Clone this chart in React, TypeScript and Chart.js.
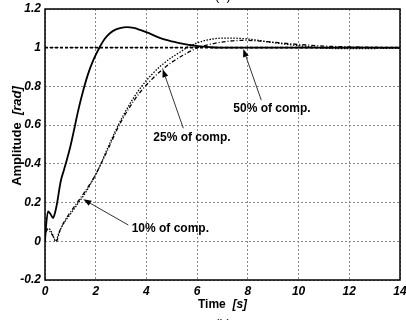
import React, { useEffect, useRef } from "react";
import { Chart, registerables } from "chart.js";

Chart.register(...registerables);

// ---- data ----
const xTicks = [0, 2, 4, 6, 8, 10, 12, 14];
const xTickLabels = ["0", "2", "4", "6", "8", "10", "12", "14"];
const yTicks = [-0.2, 0, 0.2, 0.4, 0.6, 0.8, 1.0, 1.2];
const yTickLabels = ["-0.2", "0", "0.2", "0.4", "0.6", "0.8", "1", "1.2"];

const solidTime = [0, 0.03, 0.12, 0.22, 0.32, 0.4, 0.48, 0.62, 0.75, 0.86, 1.0, 1.12, 1.3, 1.51, 1.7, 1.91, 2.17, 2.35, 2.56, 2.8, 3.0, 3.22, 3.5, 3.75, 4.1, 4.4, 4.7, 5.06, 5.4, 5.72, 6.03, 6.5, 7.0, 8, 9, 10, 11, 12, 13, 14];
const solidAmp = [0, 0.06, 0.155, 0.14, 0.12, 0.15, 0.2, 0.31, 0.37, 0.42, 0.49, 0.56, 0.67, 0.78, 0.865, 0.937, 1.006, 1.045, 1.075, 1.095, 1.103, 1.106, 1.102, 1.092, 1.075, 1.057, 1.043, 1.031, 1.021, 1.014, 1.008, 1.003, 1.0, 1.0, 1.0, 1.0, 1.0, 1.0, 1.0, 1.0];

const dottedTime = [0, 0.03, 0.1, 0.2, 0.3, 0.42, 0.55, 0.75, 1.0, 1.27, 1.54, 1.77, 2.0, 2.17, 2.5, 2.89, 3.3, 3.75, 4.2, 4.6, 5.0, 5.3, 5.59, 6.0, 6.6, 7.2, 8.0, 8.8, 9.5, 10.2, 11, 12, 13, 14];
const dottedAmp = [0, 0.05, 0.065, 0.06, 0.035, 0.0, 0.045, 0.095, 0.14, 0.19, 0.24, 0.29, 0.345, 0.39, 0.49, 0.6, 0.7, 0.79, 0.86, 0.91, 0.95, 0.975, 1.0, 1.025, 1.045, 1.05, 1.045, 1.03, 1.018, 1.008, 0.998, 0.995, 0.996, 0.997];

const dashdotTime = [0, 0.03, 0.1, 0.2, 0.3, 0.45, 0.6, 0.8, 1.0, 1.27, 1.54, 1.77, 2.0, 2.17, 2.5, 2.89, 3.3, 3.75, 4.2, 4.64, 5.0, 5.5, 6.03, 6.6, 7.2, 7.8, 8.5, 9.2, 10.0, 10.8, 11.5, 12.5, 13.2, 14];
const dashdotAmp = [0, 0.045, 0.06, 0.05, 0.03, 0.0, 0.06, 0.11, 0.15, 0.2, 0.25, 0.295, 0.345, 0.39, 0.48, 0.59, 0.685, 0.77, 0.835, 0.889, 0.925, 0.965, 1.0, 1.02, 1.033, 1.038, 1.034, 1.026, 1.017, 1.01, 1.006, 1.003, 1.001, 1.0];

const refTime = [0, 14];
const refAmp = [1, 1];

const annotationLabels = ["50% of comp.", "25% of comp.", "10% of comp."];

// ---- layout of annotations (data coordinates) ----
const annotationLayout = [
  { text: [7.426, 0.668], from: [8.53, 0.729], tip: [7.82, 0.994] },
  { text: [4.271, 0.517], from: [5.454, 0.584], tip: [4.641, 0.889] },
  { text: [3.418, 0.048], from: [3.285, 0.084], tip: [1.51, 0.217] },
];

const FONT = "'Liberation Sans', Arial, Helvetica, sans-serif";

const toPoints = (xs: number[], ys: number[]) => xs.map((x, i) => ({ x, y: ys[i] }));

const overlayPlugin = {
  id: "overlay",
  afterDraw(chart: any) {
    const ctx = chart.ctx as CanvasRenderingContext2D;
    const xs = chart.scales.x;
    const ys = chart.scales.y;
    const area = chart.chartArea;
    ctx.save();

    // frame
    ctx.strokeStyle = "#000";
    ctx.lineWidth = 1.5;
    ctx.setLineDash([]);
    ctx.strokeRect(area.left, area.top, area.right - area.left, area.bottom - area.top);

    // annotations
    ctx.font = `bold 12px ${FONT}`;
    ctx.fillStyle = "#000";
    ctx.textBaseline = "alphabetic";
    ctx.textAlign = "left";
    annotationLayout.forEach((a, i) => {
      const tx = xs.getPixelForValue(a.text[0]);
      const ty = ys.getPixelForValue(a.text[1]);
      ctx.fillText(annotationLabels[i], tx, ty);
      const fx = xs.getPixelForValue(a.from[0]);
      const fy = ys.getPixelForValue(a.from[1]);
      const px = xs.getPixelForValue(a.tip[0]);
      const py = ys.getPixelForValue(a.tip[1]);
      const ang = Math.atan2(py - fy, px - fx);
      const len = 8;
      const hw = 3;
      const bx = px - len * Math.cos(ang);
      const by = py - len * Math.sin(ang);
      ctx.strokeStyle = "#333";
      ctx.lineWidth = 1;
      ctx.beginPath();
      ctx.moveTo(fx, fy);
      ctx.lineTo(bx, by);
      ctx.stroke();
      ctx.beginPath();
      ctx.moveTo(px, py);
      ctx.lineTo(bx + hw * Math.sin(ang), by - hw * Math.cos(ang));
      ctx.lineTo(bx - hw * Math.sin(ang), by + hw * Math.cos(ang));
      ctx.closePath();
      ctx.fillStyle = "#000";
      ctx.fill();
    });

    // x title: "Time [s]"
    const cx = (area.left + area.right) / 2;
    ctx.fillStyle = "#000";
    ctx.textBaseline = "alphabetic";
    ctx.font = `bold 12px ${FONT}`;
    const t1 = "Time ";
    const w1 = ctx.measureText(t1).width;
    ctx.font = `italic bold 12px ${FONT}`;
    const t2 = " [s]";
    const w2 = ctx.measureText(t2).width;
    const sx = cx - (w1 + w2) / 2;
    ctx.font = `bold 12px ${FONT}`;
    ctx.fillText(t1, sx, 308);
    ctx.font = `italic bold 12px ${FONT}`;
    ctx.fillText(t2, sx + w1, 308);

    // y title: "Amplitude [rad]"
    ctx.save();
    ctx.translate(21, 136);
    ctx.rotate(-Math.PI / 2);
    ctx.font = `bold 13px ${FONT}`;
    const a1 = "Amplitude  ";
    const aw1 = ctx.measureText(a1).width;
    ctx.font = `italic bold 13px ${FONT}`;
    const a2 = "[rad]";
    const aw2 = ctx.measureText(a2).width;
    const ax = -(aw1 + aw2) / 2;
    ctx.font = `bold 13px ${FONT}`;
    ctx.fillText(a1, ax, 0);
    ctx.font = `italic bold 13px ${FONT}`;
    ctx.fillText(a2, ax + aw1, 0);
    ctx.restore();

    // clipped captions (mostly outside the picture)
    ctx.font = `13px ${FONT}`;
    ctx.textAlign = "center";
    ctx.textBaseline = "alphabetic";
    ctx.fillText("(a)", 223, -0.5);
    ctx.textBaseline = "top";
    ctx.fillText("(b)", 223, 317.5);

    ctx.restore();
  },
};

export default function App() {
  const ref = useRef<HTMLCanvasElement | null>(null);

  useEffect(() => {
    if (!ref.current) return;
    const tickFont = { family: FONT, size: 12, style: "italic" as const, weight: "bold" as const };
    const chart = new Chart(ref.current, {
      type: "line",
      data: {
        datasets: [
          {
            label: "reference",
            data: toPoints(refTime, refAmp),
            borderColor: "#000",
            borderWidth: 1.8,
            borderDash: [3, 2],
            pointRadius: 0,
          },
          {
            label: "10% of comp.",
            data: toPoints(dottedTime, dottedAmp),
            borderColor: "#000",
            borderWidth: 1.3,
            borderDash: [1.5, 1.5],
            pointRadius: 0,
            cubicInterpolationMode: "monotone",
          },
          {
            label: "25% of comp.",
            data: toPoints(dashdotTime, dashdotAmp),
            borderColor: "#000",
            borderWidth: 1.3,
            borderDash: [4, 2, 1, 2],
            pointRadius: 0,
            cubicInterpolationMode: "monotone",
          },
          {
            label: "50% of comp.",
            data: toPoints(solidTime, solidAmp),
            borderColor: "#000",
            borderWidth: 1.8,
            pointRadius: 0,
            cubicInterpolationMode: "monotone",
          },
        ],
      },
      options: {
        animation: false,
        responsive: false,
        devicePixelRatio: 1,
        layout: { padding: { top: 9, right: 6, left: 0, bottom: 0 } },
        plugins: { legend: { display: false }, tooltip: { enabled: false }, title: { display: false } },
        scales: {
          x: {
            type: "linear",
            min: 0,
            max: 14,
            afterBuildTicks: (s: any) => {
              s.ticks = xTicks.map((v) => ({ value: v }));
            },
            afterFit: (s: any) => {
              s.height = 40;
              s.paddingLeft = 0;
              s.paddingRight = 0;
            },
            ticks: {
              color: "#000",
              font: tickFont,
              padding: 4,
              maxRotation: 0,
              autoSkip: false,
              callback: (_v: any, i: number) => xTickLabels[i],
            },
            grid: { color: "#8a8a8a", lineWidth: 1, drawTicks: false },
            border: { display: false, dash: [2, 2] },
          },
          y: {
            type: "linear",
            min: -0.2,
            max: 1.2,
            afterBuildTicks: (s: any) => {
              s.ticks = yTicks.map((v) => ({ value: v }));
            },
            afterFit: (s: any) => {
              s.width = 45;
              s.paddingTop = 0;
              s.paddingBottom = 0;
            },
            ticks: {
              color: "#000",
              font: tickFont,
              padding: 4,
              autoSkip: false,
              callback: (_v: any, i: number) => yTickLabels[i],
            },
            grid: { color: "#8a8a8a", lineWidth: 1, drawTicks: false },
            border: { display: false, dash: [2, 2] },
          },
        },
      },
      plugins: [overlayPlugin],
    });
    return () => chart.destroy();
  }, []);

  return (
    <div style={{ position: "fixed", left: 0, top: 0, width: 406, height: 320, background: "#fff" }}>
      <canvas ref={ref} width={406} height={320} style={{ width: 406, height: 320, display: "block" }} />
    </div>
  );
}
